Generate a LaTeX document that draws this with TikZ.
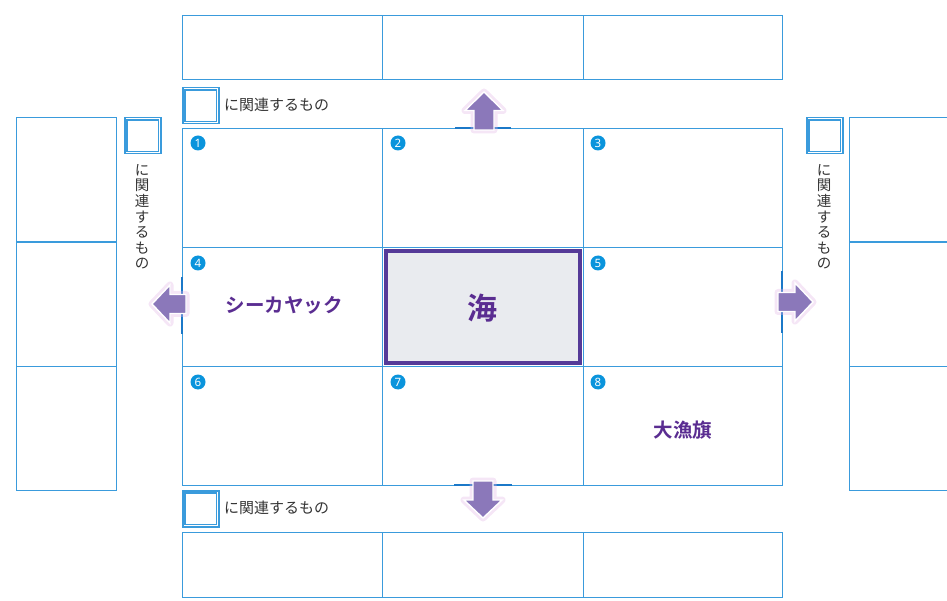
\documentclass[tikz,border=0pt]{standalone}
\usepackage{fontspec}
\setmainfont{Noto Sans CJK JP}
\newfontfamily\jpb[BoldFont={Noto Sans CJK JP Bold}]{Noto Sans CJK JP}
\newfontfamily\numf{Noto Sans}
\definecolor{lineblue}{HTML}{3A9BDC}
\definecolor{darkblue}{HTML}{1B78C8}
\definecolor{numblue}{HTML}{0A94DC}
\definecolor{txtpurple}{HTML}{5A2D91}
\definecolor{bordpurple}{HTML}{553A98}
\definecolor{arrowpurple}{HTML}{8B78BA}
\definecolor{glowpink}{HTML}{E2B6E6}
\definecolor{cellgrey}{HTML}{E9EBEF}
\definecolor{labelgrey}{HTML}{333333}
\begin{document}
\begin{tikzpicture}[x=1pt,y=-1pt,
  cell/.style={draw=lineblue, line width=1.4pt, inner sep=0pt, anchor=north west},
  num/.style={circle, fill=numblue, text=white, inner sep=0pt, minimum size=15pt, font=\numf\bfseries\fontsize{11.5}{11.5}\selectfont},
  lbl/.style={text=labelgrey, font=\fontsize{15}{15}\selectfont, inner sep=0pt, anchor=west},
  vlbl/.style={text=labelgrey, font=\fontsize{14.5}{15.6}\selectfont, inner sep=0pt, align=center, anchor=north},
  keyw/.style={text=txtpurple, font=\jpb\bfseries\fontsize{19.5}{21}\selectfont, inner sep=0pt},
  dbox/.style={draw=lineblue, line width=1.5pt, inner sep=0pt, minimum size=36pt, anchor=north west},
  dinner/.style={draw=lineblue, line width=1.2pt},
  arr/.style={fill=arrowpurple, draw=white, line width=1.4pt, line join=miter},
  glow/.style={draw=glowpink, line width=7pt, opacity=0.35, line join=round},
  seg/.style={draw=darkblue, line width=2.6pt}
]
\clip (0,0) rectangle (947,601);
\useasboundingbox (0,0) rectangle (947,601);

% top boxes
\node[cell, minimum width=200pt, minimum height=64pt] (t1) at (182,15) {};
\node[cell, minimum width=201pt, minimum height=64pt] (t2) at (382,15) {};
\node[cell, minimum width=199pt, minimum height=64pt] (t3) at (583,15) {};
% bottom boxes
\node[cell, minimum width=200pt, minimum height=65pt] (b1) at (182,532) {};
\node[cell, minimum width=201pt, minimum height=65pt] (b2) at (382,532) {};
\node[cell, minimum width=199pt, minimum height=65pt] (b3) at (583,532) {};
% left boxes
\node[cell, minimum width=100pt, minimum height=124.5pt] (l1) at (16,117) {};
\node[cell, minimum width=100pt, minimum height=124.5pt] (l2) at (16,241.5) {};
\node[cell, minimum width=100pt, minimum height=124pt] (l3) at (16,366) {};
% right boxes
\node[cell, minimum width=120pt, minimum height=124.5pt] (r1) at (849,117) {};
\node[cell, minimum width=120pt, minimum height=124.5pt] (r2) at (849,241.5) {};
\node[cell, minimum width=120pt, minimum height=124pt] (r3) at (849,366) {};

% main grid
\node[cell, minimum width=200pt, minimum height=119pt] (c1) at (182,128) {};
\node[cell, minimum width=201pt, minimum height=119pt] (c2) at (382,128) {};
\node[cell, minimum width=199pt, minimum height=119pt] (c3) at (583,128) {};
\node[cell, minimum width=200pt, minimum height=119pt] (c4) at (182,247) {};
\node[cell, minimum width=201pt, minimum height=119pt] (c0) at (382,247) {};
\node[cell, minimum width=199pt, minimum height=119pt] (c5) at (583,247) {};
\node[cell, minimum width=200pt, minimum height=119pt] (c6) at (182,366) {};
\node[cell, minimum width=201pt, minimum height=119pt] (c7) at (382,366) {};
\node[cell, minimum width=199pt, minimum height=119pt] (c8) at (583,366) {};

% center theme cell
\node[draw=bordpurple, fill=cellgrey, line width=4.5pt, minimum width=194pt, minimum height=112pt, inner sep=0pt] (theme) at (c0.center) {};
\node[text=txtpurple, font=\jpb\bfseries\fontsize{30}{32}\selectfont, inner sep=0pt] (umi) at (482.5,308) {海};

% numbers
\node[num] (n1) at (198,143) {1};
\node[num] (n2) at (398,143) {2};
\node[num] (n3) at (598,143) {3};
\node[num] (n4) at (198,263) {4};
\node[num] (n5) at (598,263) {5};
\node[num] (n6) at (198,382) {6};
\node[num] (n7) at (398,382) {7};
\node[num] (n8) at (598,382) {8};

% keywords
\node[keyw] (kw4) at (284,305) {シーカヤック};
\node[keyw] (kw8) at (683,430) {大漁旗};

% label strips
\node[dbox] (bxT) at (182,87) {};
\draw[dinner] ([shift={(3,-3)}]bxT.south west) rectangle ([shift={(-3,3)}]bxT.north east);
\node[lbl] (lbT) at (224,105) {に関連するもの};
\node[dbox] (bxB) at (182,490) {};
\draw[dinner] ([shift={(3,-3)}]bxB.south west) rectangle ([shift={(-3,3)}]bxB.north east);
\node[lbl] (lbB) at (224,508) {に関連するもの};
\node[dbox] (bxL) at (124,117) {};
\draw[dinner] ([shift={(3,-3)}]bxL.south west) rectangle ([shift={(-3,3)}]bxL.north east);
\node[vlbl] (lbL) at (142,164) {に\\関\\連\\す\\る\\も\\の};
\node[dbox] (bxR) at (806,117) {};
\draw[dinner] ([shift={(3,-3)}]bxR.south west) rectangle ([shift={(-3,3)}]bxR.north east);
\node[vlbl] (lbR) at (824,164) {に\\関\\連\\す\\る\\も\\の};

% thick segments at arrow bases
\draw[seg] (455,128) -- (511,128);
\draw[seg] (454,485) -- (512,485);
\draw[seg] (182,277) -- (182,334);
\draw[seg] (782,271) -- (782,333);

% arrows
\path[glow] (484,92) -- (503,110.5) -- (494,110.5) -- (494,130) -- (474,130) -- (474,110.5) -- (465,110.5) -- cycle;
\path[arr]  (484,92) -- (503,110.5) -- (494,110.5) -- (494,130) -- (474,130) -- (474,110.5) -- (465,110.5) -- cycle;

\path[glow] (483,518) -- (502,500) -- (493,500) -- (493,481) -- (473,481) -- (473,500) -- (464,500) -- cycle;
\path[arr]  (483,518) -- (502,500) -- (493,500) -- (493,481) -- (473,481) -- (473,500) -- (464,500) -- cycle;

\path[glow] (152,304) -- (170,285) -- (170,294.5) -- (186,294.5) -- (186,313.5) -- (170,313.5) -- (170,323) -- cycle;
\path[arr]  (152,304) -- (170,285) -- (170,294.5) -- (186,294.5) -- (186,313.5) -- (170,313.5) -- (170,323) -- cycle;

\path[glow] (813,302) -- (795,283) -- (795,292.5) -- (778,292.5) -- (778,311.5) -- (795,311.5) -- (795,321) -- cycle;
\path[arr]  (813,302) -- (795,283) -- (795,292.5) -- (778,292.5) -- (778,311.5) -- (795,311.5) -- (795,321) -- cycle;
\end{tikzpicture}
\end{document}
